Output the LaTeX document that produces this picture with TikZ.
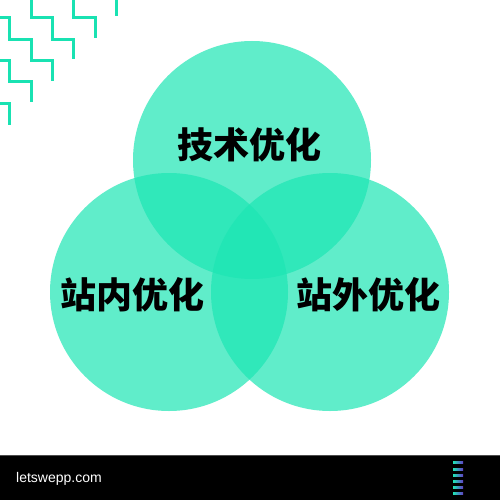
\documentclass[tikz,border=0pt]{standalone}
\usepackage{fontspec}
\setmainfont{Liberation Sans}
\newfontfamily\cjk{Noto Sans CJK SC}
\definecolor{mint}{RGB}{29,230,180}
\definecolor{stair}{RGB}{25,226,178}
\definecolor{iconpurple}{RGB}{100,60,200}
\begin{document}
\begin{tikzpicture}[x=1pt,y=-1pt,
  venn/.style={fill=mint,fill opacity=0.7,draw=none},
  label/.style={text=black,font=\cjk\bfseries\fontsize{36}{40}\selectfont,inner sep=0pt},
  stairline/.style={draw=stair,line width=3pt,line join=miter,line cap=butt},
  iconbar/.style={left color=mint,right color=iconpurple,draw=none}]
\useasboundingbox (0,0) rectangle (500,500);
\fill[white] (0,0) rectangle (500,500);
% staircases
\draw[stairline] (31,0) -- (31,18) -- (52,18) -- (52,39.5) -- (73,39.5) -- (73,59);
\draw[stairline] (73,0) -- (73,18) -- (95,18) -- (95,38);
\draw[stairline] (116,0) -- (116,16);
\draw[stairline] (0,18) -- (9,18) -- (9,39.5) -- (31,39.5) -- (31,61) -- (52,61) -- (52,81);
\draw[stairline] (0,61) -- (9,61) -- (9,82) -- (31,82) -- (31,102);
\draw[stairline] (0,104) -- (9,104) -- (9,125);
% circles
\path[venn] (252,160) circle[radius=119];
\path[venn] (169,292) circle[radius=119];
\path[venn] (330,292) circle[radius=119];
% labels
\node[label] (tech) at (249,145) {技术优化};
\node[label] (onsite) at (132,295) {站内优化};
\node[label] (offsite) at (368,295) {站外优化};
% bottom bar
\fill[black] (0,455) rectangle (500,500);
\draw[gray!60!black,line width=1pt] (0,455.5) -- (500,455.5);
\node[anchor=west,text=white,font=\fontsize{14}{16}\selectfont,inner sep=0pt] (site) at (16,479) {letswepp.com};
\foreach \yy in {462.5,469,475,481,487,493}
  \path[iconbar] (453,\yy-1) rectangle (463,\yy+1);
\end{tikzpicture}
\end{document}
